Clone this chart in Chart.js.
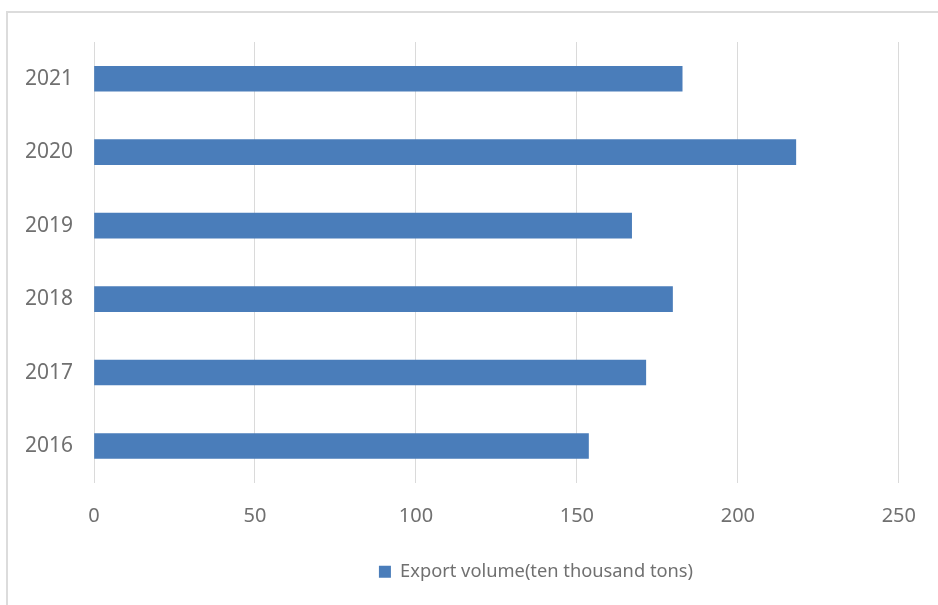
<!DOCTYPE html>
<html>
<head>
<meta charset="utf-8">
<title>Export volume</title>
<script src="https://cdn.jsdelivr.net/npm/chart.js@4"></script>
<style>
  html, body { margin: 0; padding: 0; background: #fff; }
  #wrap { position: relative; width: 938px; height: 605px; overflow: hidden; }
  #frame {
    position: absolute; left: 6px; top: 11px; width: 940px; height: 600px;
    border-top: 2px solid #dcdcdc; border-left: 2px solid #dcdcdc;
  }
  #chart { position: absolute; left: 0; top: 0; }
</style>
</head>
<body>
<div id="wrap">
  <div id="frame"></div>
  <canvas id="chart" width="938" height="605"></canvas>
</div>
<script>
// export volume by year, ten thousand tons
const years = ['2016', '2017', '2018', '2019', '2020', '2021'];
const exportVolume = [153.6, 171.4, 179.7, 167.0, 218.0, 182.7];
const xTicks = [0, 50, 100, 150, 200, 250];

const seriesName = 'Export volume(ten thousand tons)';
const barColor = '#4a7dba';
const textColor = '#707070';
const fontFamily = '"Noto Sans", "Open Sans", sans-serif';

// nudge the legend to the right of the plot's centre line
const legendShift = {
  id: 'legendShift',
  afterLayout(chart) {
    const lg = chart.legend;
    if (lg) {
      lg.left += 85;
      lg.right += 85;
    }
  }
};

new Chart(document.getElementById('chart').getContext('2d'), {
  type: 'bar',
  data: {
    labels: years,
    datasets: [{
      label: seriesName,
      data: exportVolume,
      backgroundColor: barColor,
      borderWidth: 0,
      barThickness: 25
    }]
  },
  options: {
    indexAxis: 'y',
    responsive: false,
    animation: false,
    layout: {
      padding: { top: 42, right: 36, bottom: 14, left: 0 }
    },
    plugins: {
      tooltip: { enabled: false },
      legend: {
        position: 'bottom',
        labels: {
          boxWidth: 12,
          boxHeight: 12,
          padding: 10,
          color: textColor,
          font: { family: fontFamily, size: 18.3 }
        }
      }
    },
    scales: {
      x: {
        min: 0,
        max: 250,
        afterBuildTicks(scale) {
          scale.ticks = xTicks.map(v => ({ value: v }));
        },
        afterFit(scale) {
          scale.height = 70;
        },
        grid: {
          color: '#dadada',
          lineWidth: 1,
          drawTicks: false
        },
        border: { display: false },
        ticks: {
          padding: 22,
          color: textColor,
          font: { family: fontFamily, size: 20 }
        }
      },
      y: {
        reverse: true,
        afterFit(scale) {
          scale.width = 94;
        },
        grid: { display: false, drawTicks: false },
        border: { display: false },
        ticks: {
          padding: 21,
          color: textColor,
          font: { family: fontFamily, size: 21 }
        }
      }
    }
  },
  plugins: [legendShift]
});
</script>
</body>
</html>
